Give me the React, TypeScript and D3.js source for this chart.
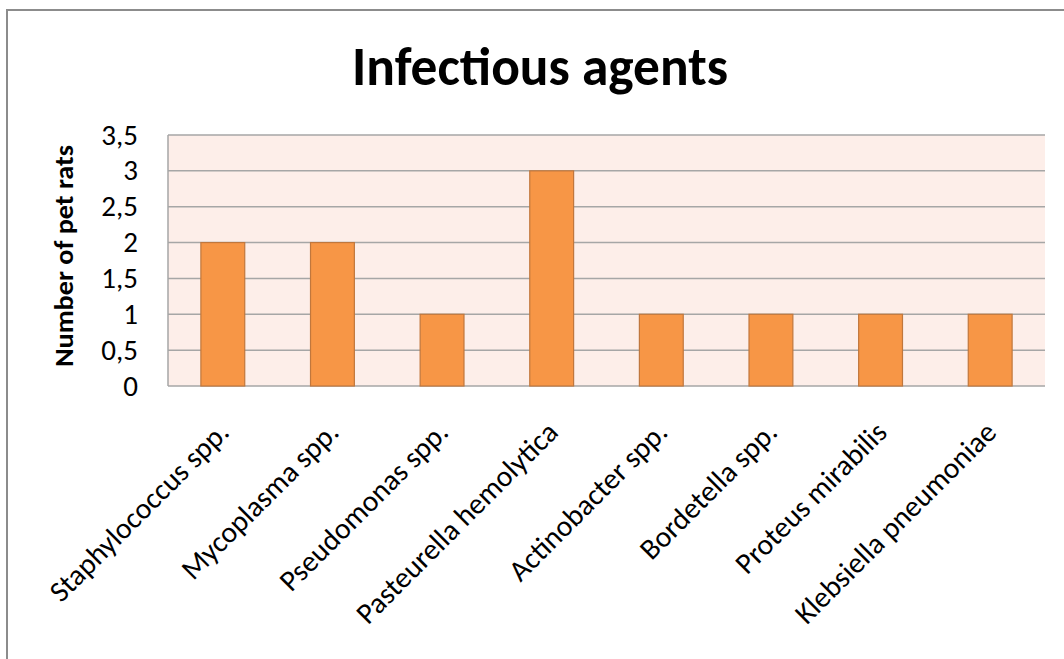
import React from "react";
import * as d3 from "d3";

const categories = [
  "Staphylococcus spp.",
  "Mycoplasma spp.",
  "Pseudomonas spp.",
  "Pasteurella hemolytica",
  "Actinobacter spp.",
  "Bordetella spp.",
  "Proteus mirabilis",
  "Klebsiella pneumoniae",
];
const values = [2, 2, 1, 3, 1, 1, 1, 1];
const yTicks = [0, 0.5, 1, 1.5, 2, 2.5, 3, 3.5];
const title = "Infectious agents";
const yTitle = "Number of pet rats";

const W = 1064;
const H = 659;
const FONT = "Carlito, Calibri, 'Open Sans', 'Noto Sans', sans-serif";

export default function App() {
  const left = 168, right = 1045, top = 135, bottom = 386;
  const x = d3.scaleBand().domain(categories).range([left, right]).paddingInner(0.6).paddingOuter(0.3);
  const xc = d3.scaleBand().domain(categories).range([left, right]);
  const y = d3.scaleLinear().domain([0, 3.5]).range([bottom, top]);
  const fmt = (v: number) => String(v).replace(".", ",");

  return (
    <svg width={W} height={H} style={{ position: "absolute", left: 0, top: 0, background: "#fff" }}>
      <rect x={7} y={10} width={W + 10} height={H + 10} fill="#fff" stroke="#8c8c8c" strokeWidth={2} />
      <text x={540} y={85} textAnchor="middle" fontFamily={FONT} fontWeight="bold" fontSize={54} fill="#000"
        textLength={376} lengthAdjust="spacingAndGlyphs">{title}</text>
      <rect x={left} y={top} width={right - left} height={bottom - top} fill="#fdeee9" />
      {yTicks.map((t) => (
        <g key={t}>
          <line x1={left} x2={right} y1={y(t)} y2={y(t)} stroke="#a6a6a6" strokeWidth={1.5} />
          <text x={138} y={y(t)} dy="0.33em" textAnchor="end" fontFamily={FONT} fontSize={29} fill="#000">{fmt(t)}</text>
        </g>
      ))}
      <line x1={left} x2={left} y1={top} y2={bottom} stroke="#a6a6a6" strokeWidth={1.5} />
      {categories.map((c, i) => (
        <rect key={c} x={x(c)!} y={y(values[i])} width={x.bandwidth()} height={bottom - y(values[i])}
          fill="#f79646" stroke="#c0773d" strokeWidth={1.2} />
      ))}
      <text transform={`translate(73,256) rotate(-90)`} textAnchor="middle" fontFamily={FONT} fontWeight="bold"
        fontSize={26} fill="#000" textLength={222} lengthAdjust="spacingAndGlyphs">{yTitle}</text>
      {categories.map((c) => {
        const cx = xc(c)! + xc.bandwidth() / 2;
        return (
          <text key={c} transform={`translate(${cx + 8},${434}) rotate(-45)`} textAnchor="end" fontFamily={FONT}
            fontSize={29.5} fill="#000">{c}</text>
        );
      })}
    </svg>
  );
}
